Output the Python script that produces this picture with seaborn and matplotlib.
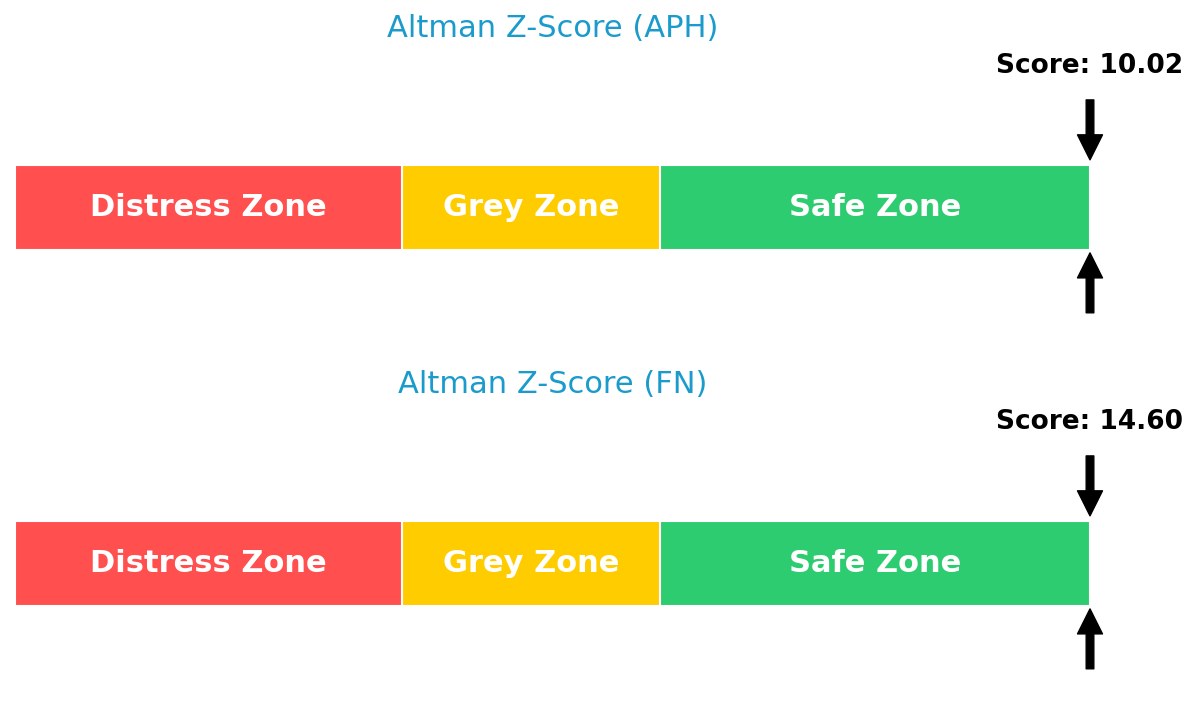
import numpy as np
import pandas as pd
import seaborn as sns
import matplotlib.pyplot as plt

companies = ['APH', 'FN']
scores = [10.02, 14.60]
zone_names = ['Distress Zone', 'Grey Zone', 'Safe Zone']
zone_ends = [1.8, 3.0, 5.0]
zone_colors = ['#ff4f4f', '#ffcc00', '#2ecc71']
axis_max = 5.0

sns.set_style('white')
plt.rcParams['font.family'] = ['DejaVu Sans']

fig = plt.figure(figsize=(12, 7.12), dpi=100)

for i, (comp, score) in enumerate(zip(companies, scores)):
    top_px = 40 + 356 * i
    ax = fig.add_axes([15 / 1200, 1 - (top_px + 300) / 712, 1075 / 1200, 300 / 712])

    # draw zones from widest to narrowest so they stack visually
    for end, col in reversed(list(zip(zone_ends, zone_colors))):
        df = pd.DataFrame({'company': [comp], 'end': [end]})
        sns.barplot(data=df, x='end', y='company', orient='h', color=col,
                    saturation=1, width=1.0, errorbar=None,
                    edgecolor='white', linewidth=1.5, ax=ax)

    starts = [0] + zone_ends[:-1]
    for name, s, e in zip(zone_names, starts, zone_ends):
        ax.text((s + e) / 2, 0, name, ha='center', va='center',
                color='white', fontsize=22, fontweight='bold')

    x_arrow = min(score, axis_max)
    arrow_kw = dict(facecolor='black', edgecolor='black', width=5.5,
                    headwidth=18, headlength=18, shrink=0)
    ax.annotate('', xy=(x_arrow, 0.56), xytext=(x_arrow, 1.265), arrowprops=arrow_kw)
    ax.annotate('', xy=(x_arrow, -0.535), xytext=(x_arrow, -1.24), arrowprops=arrow_kw)
    ax.text(x_arrow, 1.66, f'Score: {score:.2f}', ha='center', va='center',
            fontsize=19, fontweight='bold', color='black')

    ax.text(axis_max / 2, 2.11, f'Altman Z-Score ({comp})', ha='center',
            va='center', fontsize=22, color='#1a9bcc', clip_on=False)

    ax.set_xlim(0, axis_max)
    ax.set_ylim(-1.56, 1.97)
    ax.axis('off')

fig.savefig('out.png', dpi=100)
